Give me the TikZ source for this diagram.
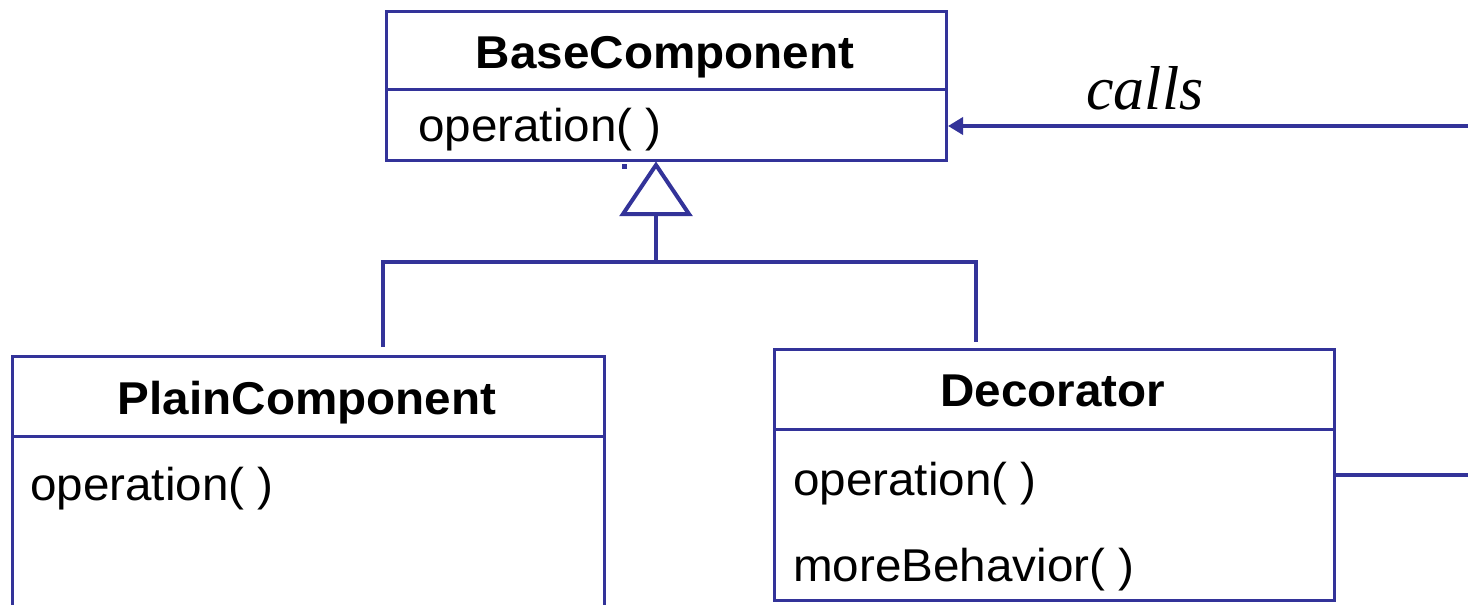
\documentclass[tikz,border=0pt]{standalone}
\usepackage{fontspec}
\setmainfont{Liberation Sans}[FakeStretch=1.035]
\newfontfamily\callsfont{Liberation Serif}
\usetikzlibrary{arrows.meta}
\definecolor{umlblue}{RGB}{51,51,153}
\tikzset{
  box/.style={draw=umlblue, line width=3pt, rectangle, inner sep=0pt, anchor=north west},
  divider/.style={draw=umlblue, line width=3pt},
  conn/.style={draw=umlblue, line width=4pt},
  title/.style={font=\fontsize{46}{54}\selectfont\bfseries, inner sep=0pt, anchor=base},
  member/.style={font=\fontsize{46}{54}\selectfont, inner sep=0pt, anchor=base west},
  calltip/.style={-{Triangle[length=15pt,width=17pt]}}
}
\begin{document}
\begin{tikzpicture}[x=1pt,y=-1pt]
\useasboundingbox (0,0) rectangle (1468,605);
\clip (0,0) rectangle (1468,605);

% BaseComponent
\node[box, minimum width=560pt, minimum height=149pt] (base) at (385,10) {};
\draw[divider] (385,89) -- (945,89);
\node[title] (baset) at (665,68) {BaseComponent};
\node[member] (baseop) at (418,141) {operation( )};

% PlainComponent
\node[box, minimum width=592pt, minimum height=300pt] (plain) at (11,355) {};
\draw[divider] (11,436) -- (603,436);
\node[title] (plaint) at (307,414) {PlainComponent};
\node[member] (plainop) at (30,500) {operation( )};

% Decorator
\node[box, minimum width=560pt, minimum height=251pt] (deco) at (773,348) {};
\draw[divider] (773,429) -- (1333,429);
\node[title] (decot) at (1053,406) {Decorator};
\node[member] (decoop) at (793,495) {operation( )};
\node[member] (decomb) at (793,581) {moreBehavior( )};

% generalization
\coordinate (apex) at (656,165);
\coordinate (bl) at (623,214);
\coordinate (br) at (689,214);
\coordinate (bm) at (656,214);
\coordinate (junc) at (656,262);
\coordinate (lcorner) at (383,262);
\coordinate (rcorner) at (976,262);
\coordinate (lend) at (383,347);
\coordinate (rend) at (976,342);
\draw[conn, line join=miter] (apex) -- (bl) -- (br) -- cycle;
\draw[conn] (bm) -- (junc);
\draw[conn] (lend) -- (lcorner) -- (rcorner) -- (rend);
\fill[umlblue] (622,164) rectangle (626.5,168.5);

% calls
\coordinate (callsin) at (1468,126);
\coordinate (decoout) at (1468,475);
\draw[conn, line width=3.6pt, calltip] (callsin) -- (base.east |- callsin);
\node[font=\fontsize{62}{70}\selectfont\callsfont\itshape, inner sep=0pt, anchor=base] (calls) at (1145,109) {calls};
\draw[conn, line width=3.6pt] (deco.east |- decoout) -- (decoout);
\end{tikzpicture}
\end{document}
